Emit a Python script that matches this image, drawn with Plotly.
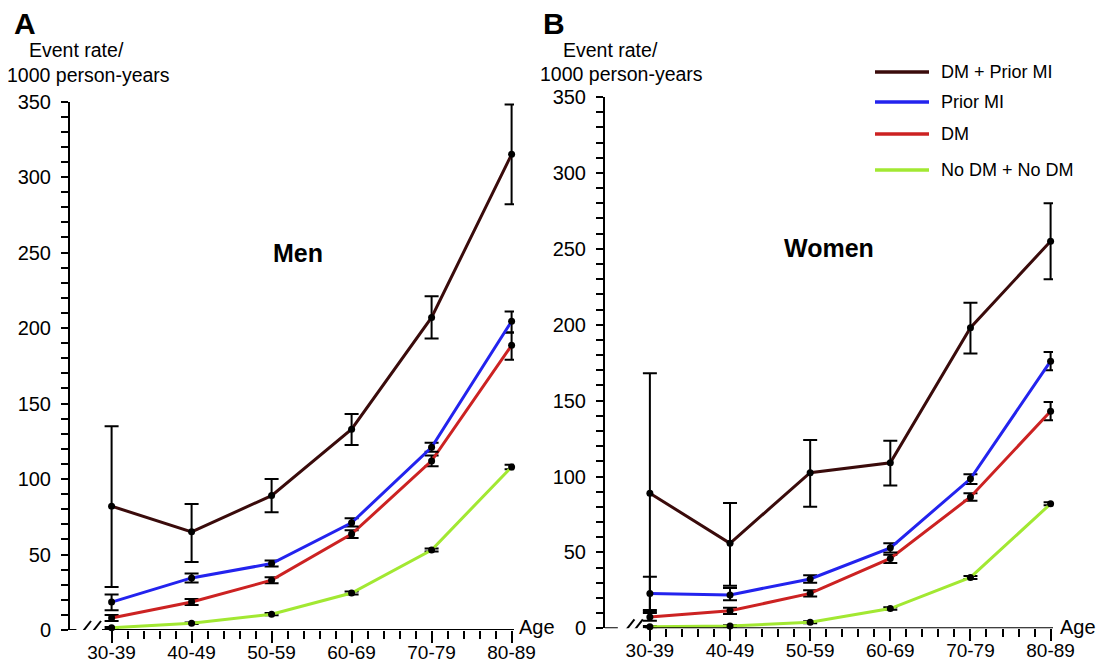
import plotly.graph_objects as go

# ---------------- data ----------------
ages = ["30-39", "40-49", "50-59", "60-69", "70-79", "80-89"]
series_names = ["DM + Prior MI", "Prior MI", "DM", "No DM + No DM"]
series_colors = ["#3a0b0b", "#2323ee", "#cc2222", "#a2e832"]

# Men (panel A): rate, lower CI, upper CI
men_dm_mi = [82, 65, 89, 133, 207, 315]
men_dm_mi_lo = [28.5, 45, 78, 122.5, 193, 282]
men_dm_mi_hi = [135, 83.5, 100, 143, 221, 348]
men_mi = [18.5, 34.5, 44, 71, 121, 204.5]
men_mi_lo = [13, 31.5, 42, 68.5, 118, 197]
men_mi_hi = [23.5, 37.5, 46, 74, 124, 211]
men_dm = [8, 18.5, 33, 63.5, 112, 188.5]
men_dm_lo = [6, 16.5, 31, 61, 108.5, 179]
men_dm_hi = [10, 20.5, 35, 66, 115.5, 197]
men_none = [1.5, 4.5, 10.5, 24.5, 53, 108]
men_none_lo = [1, 4, 9.8, 23.5, 52, 106.5]
men_none_hi = [2, 5, 11.2, 25.5, 54, 109.5]

# Women (panel B)
wom_dm_mi = [89, 56, 102.5, 109, 198, 255]
wom_dm_mi_lo = [11, 28, 80, 94, 181, 230]
wom_dm_mi_hi = [168, 82.5, 124, 123.5, 214.5, 280]
wom_mi = [23, 22, 32.5, 53, 98.5, 176]
wom_mi_lo = [12, 18.5, 30, 50, 95, 170]
wom_mi_hi = [34, 26.5, 35, 56, 101.5, 182]
wom_dm = [7.5, 11.5, 23, 46, 86.5, 143]
wom_dm_lo = [5, 9.5, 21, 43, 84, 137]
wom_dm_hi = [10, 13.5, 25, 48.5, 89, 149]
wom_none = [1, 1.5, 4, 13, 33.5, 82]
wom_none_lo = [0.5, 1, 3.3, 12.2, 32.5, 81]
wom_none_hi = [1.5, 2, 4.7, 13.8, 34.5, 83]

y_ticks = [0, 50, 100, 150, 200, 250, 300, 350]

# ---------------- figure ----------------
W, H = 1100, 663
FONT = "Liberation Sans, Arial, Helvetica, sans-serif"


def px(x):
    return x / W


def py(y):
    return 1 - y / H


fig = go.Figure()
xpos = list(range(len(ages)))

panels = [
    ("x", "y", [(men_dm_mi, men_dm_mi_lo, men_dm_mi_hi),
                (men_mi, men_mi_lo, men_mi_hi),
                (men_dm, men_dm_lo, men_dm_hi),
                (men_none, men_none_lo, men_none_hi)]),
    ("x2", "y2", [(wom_dm_mi, wom_dm_mi_lo, wom_dm_mi_hi),
                  (wom_mi, wom_mi_lo, wom_mi_hi),
                  (wom_dm, wom_dm_lo, wom_dm_hi),
                  (wom_none, wom_none_lo, wom_none_hi)]),
]

for xa, ya, sers in panels:
    # draw from bottom series to top series
    for i in reversed(range(len(sers))):
        v, lo, hi = sers[i]
        fig.add_trace(go.Scatter(
            x=xpos, y=v, xaxis=xa, yaxis=ya,
            name=series_names[i], showlegend=False,
            mode="lines+markers",
            line=dict(color=series_colors[i], width=3),
            marker=dict(color="black", size=7),
            error_y=dict(type="data", symmetric=False,
                         array=[h - a for a, h in zip(v, hi)],
                         arrayminus=[a - l for a, l in zip(v, lo)],
                         color="black", thickness=2, width=7),
            cliponaxis=False,
        ))

minor_x = [i + k / 5 for i in range(5) for k in range(1, 5)]

xcommon = dict(
    automargin=False,
    showline=False, showgrid=False, zeroline=False,
    tickmode="array", tickvals=xpos, ticktext=ages,
    ticks="outside", ticklen=12, tickwidth=2, tickcolor="black",
    tickfont=dict(size=19, color="black", family=FONT),
    ticklabelstandoff=-7,
    minor=dict(tickmode="array", tickvals=minor_x, ticks="outside",
               ticklen=8, tickwidth=2, tickcolor="black"),
    fixedrange=True,
)
ycommon = dict(
    automargin=False,
    range=[0, 350], showline=True, linewidth=2, linecolor="black",
    showgrid=False, zeroline=False,
    tickmode="array", tickvals=y_ticks,
    ticks="outside", ticklen=7, tickwidth=2, tickcolor="black",
    tickfont=dict(size=20, color="black", family=FONT),
    minor=dict(dtick=10, ticks="outside", ticklen=7, tickwidth=2,
               tickcolor="black"),
    ticklabelstandoff=6,
    fixedrange=True,
)

fig.update_layout(
    width=W, height=H, autosize=False,
    margin=dict(l=0, r=0, t=0, b=0, pad=0, autoexpand=False),
    paper_bgcolor="white", plot_bgcolor="white",
    font=dict(family=FONT, color="black"),
    xaxis=dict(domain=[px(70), px(514)], range=[-0.52, 5.03], anchor="y", **xcommon),
    yaxis=dict(domain=[py(630), py(101.5)], anchor="x", **ycommon),
    xaxis2=dict(domain=[px(605), px(1053)], range=[-0.56, 5.03], anchor="y2", **xcommon),
    yaxis2=dict(domain=[py(628.3), py(97)], anchor="x2", **ycommon),
)

shapes = []
# x-axis lines with a break, and the break marks
for xa, ya, xmin, seg1_end, seg2_start, slashes in [
    ("x", "y", -0.52, -0.44, -0.12, [-0.345, -0.22]),
    ("x2", "y2", -0.56, -0.40, -0.06, [-0.28, -0.175]),
]:
    shapes.append(dict(type="line", xref=xa, yref=ya, x0=xmin, x1=seg1_end, y0=0, y1=0,
                       line=dict(color="black", width=2)))
    shapes.append(dict(type="line", xref=xa, yref=ya, x0=seg2_start, x1=5.03, y0=0, y1=0,
                       line=dict(color="black", width=2)))
    for s in slashes:
        shapes.append(dict(type="line", xref=xa, yref=ya,
                           xsizemode="pixel", ysizemode="pixel",
                           xanchor=s, yanchor=0,
                           x0=-7, x1=7, y0=-9, y1=9,
                           line=dict(color="black", width=2)))

# legend (drawn manually)
leg_y = [72, 102, 134, 170]
for name, col, yy in zip(series_names, series_colors, leg_y):
    shapes.append(dict(type="line", xref="paper", yref="paper",
                       x0=px(875), x1=px(929), y0=py(yy), y1=py(yy),
                       line=dict(color=col, width=3.5)))

fig.update_layout(shapes=shapes)

ann = []


def text(x, y, s, size, bold=False, xanchor="left"):
    ann.append(dict(xref="paper", yref="paper", x=px(x), y=py(y),
                    text=("<b>%s</b>" % s) if bold else s,
                    showarrow=False, xanchor=xanchor, yanchor="middle",
                    font=dict(size=size, color="black", family=FONT)))


for name, yy in zip(series_names, leg_y):
    text(939, yy, name, 18)

# panel letters and axis titles
text(12, 24, "A", 30, bold=True)
text(541, 24, "B", 30, bold=True)
text(27, 50, "Event rate/", 19.5)
text(5, 75, "1000 person-years", 19.5)
text(561, 50, "Event rate/", 19.5)
text(538, 74, "1000 person-years", 19.5)
text(517, 627, "Age", 20)
text(1058, 627, "Age", 20)
text(298, 253, "Men", 25, bold=True, xanchor="center")
text(829, 248, "Women", 25, bold=True, xanchor="center")

fig.update_layout(annotations=ann)

fig.write_html(
    "out.html",
    config={"displayModeBar": False},
    post_script="document.body.style.margin='0';document.body.style.padding='0';",
)
